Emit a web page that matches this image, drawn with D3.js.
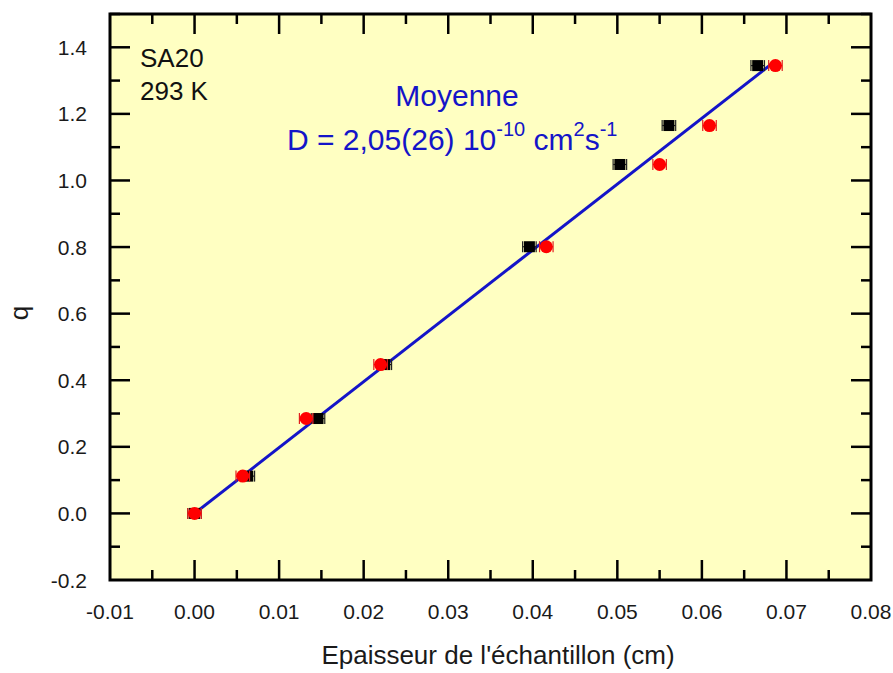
<!DOCTYPE html>
<html><head><meta charset="utf-8">
<script src="https://cdn.jsdelivr.net/npm/d3@7"></script>
<style>body{margin:0;background:#fff;} text{font-family:"Liberation Sans",Arial,sans-serif;}</style>
</head><body>
<svg id="c" width="893" height="673"></svg>
<script>
const xTicks = [-0.01,0,0.01,0.02,0.03,0.04,0.05,0.06,0.07,0.08];
const yTicks = [-0.2,0,0.2,0.4,0.6,0.8,1.0,1.2,1.4];
const qValues = [0, 0.112, 0.285, 0.447, 0.801, 1.048, 1.165, 1.345];
const blackX = [0.0000, 0.0063, 0.0146, 0.0225, 0.0396, 0.0503, 0.0561, 0.0666];
const redX   = [0.0000, 0.0057, 0.0132, 0.0220, 0.0416, 0.0550, 0.0609, 0.0687];
const xErr = 0.0008;
const fitLine = [[0,0],[0.0685,1.355]];

const svg = d3.select("#c");
const L=110, R=871, T=14, B=580;
const x = d3.scaleLinear().domain([-0.01,0.08]).range([L,R]);
const y = d3.scaleLinear().domain([-0.2,1.5]).range([B,T]);

svg.append("rect").attr("x",L).attr("y",T).attr("width",R-L).attr("height",B-T).attr("fill","#ffffc2");

const g = svg.append("g");
const minX = d3.range(-0.005,0.08,0.01);
const majY = [0,0.2,0.4,0.6,0.8,1.0,1.2,1.4], minY = d3.range(-0.1,1.51,0.2);
function ticks(vals,len){
  vals.forEach(v=>{
    const px=x(v);
    g.append("line").attr("x1",px).attr("x2",px).attr("y1",B).attr("y2",B-len).attr("stroke","#000").attr("stroke-width",2.5);
    g.append("line").attr("x1",px).attr("x2",px).attr("y1",T).attr("y2",T+len).attr("stroke","#000").attr("stroke-width",2.5);
  });
}
function ticksY(vals,len){
  vals.forEach(v=>{
    const py=y(v);
    g.append("line").attr("y1",py).attr("y2",py).attr("x1",L).attr("x2",L+len).attr("stroke","#000").attr("stroke-width",2.5);
    g.append("line").attr("y1",py).attr("y2",py).attr("x1",R).attr("x2",R-len).attr("stroke","#000").attr("stroke-width",2.5);
  });
}
ticks(xTicks.slice(1,-1),20); ticks(minX,10);
ticksY(majY,20); ticksY(minY,10);

xTicks.forEach(v=>{
  svg.append("text").attr("x",x(v)).attr("y",B+39).attr("text-anchor","middle").attr("font-size",21).attr("fill","#1a1a1a").text(v.toFixed(2));
});
yTicks.forEach(v=>{
  svg.append("text").attr("x",L-23).attr("y",y(v)+7.5).attr("text-anchor","end").attr("font-size",21).attr("fill","#1a1a1a").text(v.toFixed(1));
});

svg.append("text").attr("x",498).attr("y",664).attr("text-anchor","middle").attr("font-size",26).attr("fill","#1a1a1a").text("Epaisseur de l'échantillon (cm)");
svg.append("text").attr("transform","translate(28,313) rotate(-90)").attr("text-anchor","middle").attr("font-size",26).attr("fill","#1a1a1a").text("q");

// fit line
svg.append("line").attr("x1",x(fitLine[0][0])).attr("y1",y(fitLine[0][1])).attr("x2",x(fitLine[1][0])).attr("y2",y(fitLine[1][1])).attr("stroke","#1414c8").attr("stroke-width",3);

function errbars(xs,col){
  xs.forEach((v,i)=>{
    const py=y(qValues[i]), x1=x(v-xErr), x2=x(v+xErr);
    svg.append("line").attr("x1",x1).attr("x2",x2).attr("y1",py).attr("y2",py).attr("stroke",col).attr("stroke-width",1.2);
    [x1,x2].forEach(px=>svg.append("line").attr("x1",px).attr("x2",px).attr("y1",py-5.5).attr("y2",py+5.5).attr("stroke",col).attr("stroke-width",1.2));
  });
}
errbars(blackX,"#222");
blackX.forEach((v,i)=>svg.append("rect").attr("x",x(v)-5.5).attr("y",y(qValues[i])-5.5).attr("width",11).attr("height",11).attr("fill","#000"));
errbars(redX,"#e02020");
redX.forEach((v,i)=>svg.append("circle").attr("cx",x(v)).attr("cy",y(qValues[i])).attr("r",6.5).attr("fill","#ff0000"));

// frame
svg.append("rect").attr("x",L).attr("y",T).attr("width",R-L).attr("height",B-T).attr("fill","none").attr("stroke","#000").attr("stroke-width",3);

svg.append("text").attr("x",140).attr("y",67).attr("font-size",26).attr("fill","#111").text("SA20");
svg.append("text").attr("x",140).attr("y",100).attr("font-size",26).attr("fill","#111").text("293 K");
svg.append("text").attr("x",457).attr("y",106).attr("text-anchor","middle").attr("font-size",30).attr("fill","#1414c8").text("Moyenne");
const t = svg.append("text").attr("x",287).attr("y",150).attr("font-size",30).attr("fill","#1414c8");
t.append("tspan").text("D = 2,05(26) 10");
t.append("tspan").attr("dy",-14).attr("font-size",20).text("-10");
t.append("tspan").attr("dy",14).text(" cm");
t.append("tspan").attr("dy",-14).attr("font-size",20).text("2");
t.append("tspan").attr("dy",14).text("s");
t.append("tspan").attr("dy",-14).attr("font-size",20).text("-1");
</script>
</body></html>
